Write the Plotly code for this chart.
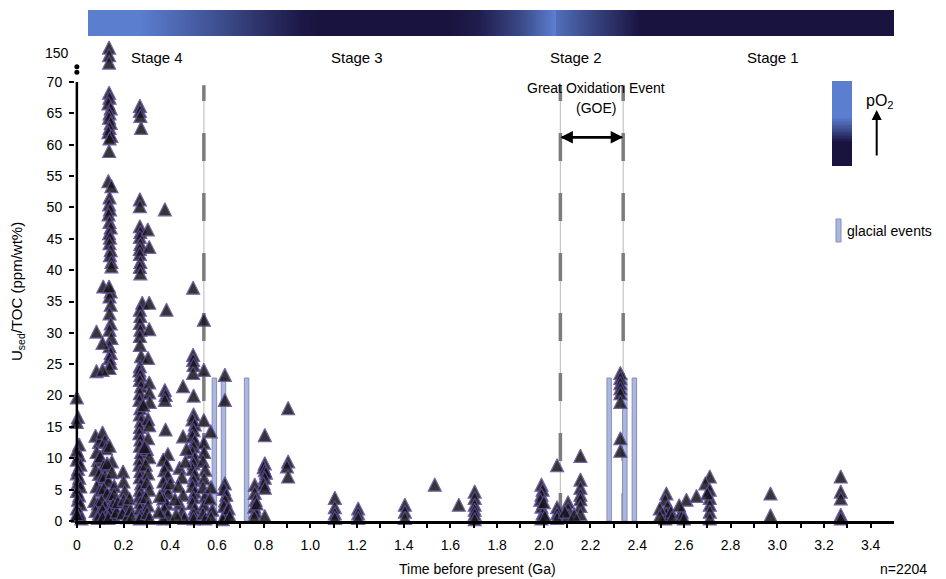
import numpy as np
import plotly.graph_objects as go

# ---------------- data ----------------
# Stage 4 (0 - 0.54 Ga)
s4_x = [0.0, 0.005, 0.0, 0.01, 0.0, 0.01, 0.0, 0.015, 0.005, 0.0, 0.01, 0.005, 0.015, 0.0, 0.01, 0.005, 0.015, 0.0, 0.01, 0.005, 0.02, 0.0,
        0.08, 0.095, 0.11, 0.12, 0.125, 0.14, 0.15, 0.085, 0.09, 0.1, 0.115, 0.13, 0.08, 0.095, 0.105, 0.12, 0.135, 0.15, 0.16,
        0.085, 0.1, 0.115, 0.13, 0.145, 0.16, 0.075, 0.09, 0.105, 0.12, 0.14, 0.155, 0.08, 0.095, 0.11, 0.125, 0.14, 0.16, 0.09,
        0.11, 0.135, 0.17, 0.175,
        0.198, 0.2, 0.205, 0.2, 0.21, 0.195, 0.215, 0.23, 0.235, 0.225,
        0.138, 0.14, 0.135, 0.145, 0.14, 0.138, 0.145, 0.14, 0.135, 0.148, 0.14, 0.138,
        0.135, 0.148, 0.14, 0.138, 0.142, 0.136, 0.14, 0.145, 0.138, 0.142, 0.14, 0.145, 0.142, 0.148, 0.148,
        0.145, 0.14, 0.145, 0.14, 0.145, 0.14, 0.148, 0.14, 0.145, 0.14, 0.145, 0.14,
        0.084, 0.11, 0.084, 0.11, 0.113, 0.138,
        0.27, 0.27, 0.272, 0.275, 0.27, 0.27, 0.27, 0.272, 0.27, 0.272, 0.27, 0.27, 0.272, 0.27, 0.272, 0.304, 0.31,
        0.377, 0.498,
        0.28, 0.27, 0.272, 0.27, 0.272, 0.27, 0.27, 0.275, 0.31, 0.31, 0.305, 0.384,
        0.27, 0.268, 0.272, 0.27, 0.275, 0.27, 0.268, 0.272, 0.27, 0.275, 0.27, 0.268, 0.272, 0.27, 0.275, 0.27, 0.268,
        0.272, 0.27, 0.275, 0.27, 0.268, 0.272, 0.27, 0.275, 0.27,
        0.31, 0.31, 0.312, 0.305, 0.31, 0.305, 0.3, 0.31, 0.295, 0.305, 0.3, 0.31, 0.295, 0.305, 0.3, 0.31, 0.29, 0.285,
        0.377, 0.38, 0.377, 0.38, 0.39, 0.37, 0.385, 0.375, 0.39, 0.37, 0.38, 0.39, 0.37, 0.385, 0.375, 0.39, 0.37, 0.4,
        0.355, 0.35,
        0.455, 0.455, 0.498, 0.498, 0.5, 0.498, 0.5,
        0.5, 0.495, 0.505, 0.5, 0.495, 0.505, 0.5, 0.495, 0.505, 0.5, 0.495, 0.505, 0.5, 0.495, 0.505, 0.5, 0.495, 0.505,
        0.5, 0.5,
        0.44, 0.45, 0.435, 0.455, 0.44, 0.45, 0.46, 0.465, 0.47, 0.42, 0.425]
s4_y = [19.7, 16.6, 15.8, 12.2, 11.3, 10.5, 9.8, 9.0, 8.3, 7.6, 6.9, 6.2, 5.5, 4.8, 4.1, 3.4, 2.7, 2.0, 1.4, 0.8, 0.4, 1.1,
        13.6, 12.6, 14.1, 12.8, 11.6, 12.0, 9.5, 11.0, 9.7, 10.3, 8.8, 9.2, 8.2, 7.5, 6.8, 7.2, 6.4, 7.8, 5.6,
        5.5, 4.9, 5.2, 4.4, 3.8, 4.3, 3.2, 2.8, 3.3, 2.4, 2.1, 2.6, 1.6, 1.2, 1.8, 0.9, 1.3, 0.7, 0.5,
        0.6, 0.5, 1.5, 3.0,
        7.9, 6.3, 4.8, 3.4, 2.2, 1.2, 0.6, 1.8, 0.7, 3.6,
        68.3, 67.5, 66.6, 65.8, 65.0, 64.3, 63.5, 62.7, 62.0, 61.4, 61.0, 59.0,
        54.2, 53.4, 51.6, 50.5, 49.7, 48.9, 47.7, 46.8, 45.9, 45.2, 44.3, 43.2, 42.4, 41.3, 40.6,
        36.6, 35.8, 34.5, 33.1, 31.5, 30.5, 29.2, 27.9, 26.8, 26.0, 25.2, 24.4,
        30.2, 28.4, 23.9, 24.1, 37.4, 37.4,
        66.2, 65.4, 64.6, 62.7, 51.3, 50.2, 47.0, 46.1, 45.3, 44.2, 43.4, 42.6, 41.3, 40.5, 39.5, 46.5, 43.7,
        49.7, 37.2,
        34.8, 33.7, 32.7, 31.6, 30.5, 29.5, 28.1, 26.3, 34.8, 30.6, 26.0, 33.7,
        24.7, 24.0, 23.3, 22.5, 21.5, 20.4, 19.3, 18.0, 17.0, 16.0, 15.0, 14.0, 13.0, 12.0, 11.0, 10.0, 9.0,
        8.0, 7.0, 6.0, 5.0, 4.0, 3.0, 2.0, 1.0, 0.4,
        22.1, 20.5, 19.0, 16.3, 15.3, 13.2, 11.5, 10.2, 9.0, 7.6, 6.2, 5.0, 3.8, 2.5, 1.3, 0.5, 11.8, 18.5,
        20.9, 20.1, 19.3, 14.6, 10.7, 9.8, 9.0, 8.1, 7.2, 6.3, 5.4, 4.5, 3.6, 2.8, 1.9, 1.0, 0.4, 6.0,
        4.0, 1.5,
        21.5, 13.5, 26.5, 25.7, 24.9, 23.6, 20.0,
        17.0, 16.2, 15.4, 14.5, 13.6, 12.8, 11.9, 11.0, 10.1, 9.2, 8.3, 7.4, 6.5, 5.6, 4.7, 3.8, 2.9, 2.0,
        1.1, 0.4,
        8.5, 7.0, 5.6, 4.2, 2.8, 1.4, 0.5, 9.5, 11.5, 3.5, 1.0]

# Stage 3 (0.54 - 2.07 Ga)
s3_x = [0.544, 0.544, 0.573, 0.544, 0.544,
        0.545, 0.54, 0.55, 0.545, 0.54, 0.55, 0.545, 0.54, 0.55,
        0.575, 0.57, 0.58, 0.575,
        0.634, 0.634, 0.634, 0.63, 0.64, 0.635, 0.63, 0.64, 0.635, 0.625, 0.65, 0.655,
        0.762, 0.762, 0.765, 0.76, 0.765, 0.76, 0.805, 0.805, 0.8, 0.805, 0.81, 0.805, 0.8, 0.805, 0.805,
        0.905, 0.905, 0.9, 0.905, 0.77,
        1.105, 1.105, 1.105, 1.105, 1.205, 1.205, 1.205, 1.405, 1.405, 1.405, 1.533, 1.636,
        1.704, 1.704, 1.704, 1.704, 1.704, 1.704,
        1.99, 1.995, 1.99, 1.985, 1.99, 1.995, 1.99, 2.0, 2.005, 2.057, 2.057, 2.057, 2.057]
s3_y = [32.1, 24.1, 14.3, 16.1, 12.5,
        11.0, 9.6, 8.2, 6.8, 5.4, 4.0, 2.6, 1.2, 0.4,
        5.4, 3.6, 1.8, 0.6,
        23.3, 19.3, 6.0, 5.1, 4.2, 3.3, 2.4, 1.5, 0.7, 0.3, 2.0, 0.8,
        5.8, 4.5, 3.4, 2.3, 1.5, 0.7, 13.7, 9.2, 8.6, 8.1, 7.7, 6.9, 6.0, 5.3, 0.8,
        18.0, 9.5, 8.7, 7.1, 2.8,
        3.7, 2.2, 1.2, 0.5, 2.0, 1.2, 0.5, 2.6, 1.5, 0.5, 5.8, 2.6,
        4.7, 3.7, 2.6, 1.8, 1.1, 0.3,
        5.8, 5.0, 4.2, 3.4, 2.3, 1.2, 0.4, 3.0, 0.8, 8.9, 2.2, 1.2, 0.5]

# Stage 2 (2.07 - 2.34 Ga)
s2_x = [2.104, 2.104, 2.104, 2.09, 2.157, 2.157, 2.157, 2.157, 2.157, 2.157, 2.157, 2.13,
        2.328, 2.328, 2.328, 2.328, 2.328, 2.328, 2.328, 2.328]
s2_y = [3.0, 2.0, 0.9, 1.5, 10.4, 6.6, 5.3, 4.2, 3.5, 2.4, 1.1, 1.0,
        23.6, 22.8, 22.0, 21.2, 20.4, 19.0, 13.2, 11.2]

# Stage 1 (> 2.34 Ga)
s1_x = [2.525, 2.52, 2.53, 2.525, 2.52, 2.497, 2.497, 2.545, 2.55, 2.59, 2.59, 2.611, 2.654, 2.58, 2.6,
        2.711, 2.692, 2.711, 2.711, 2.711, 2.711, 2.711, 2.7,
        2.971, 2.971, 3.272, 3.272, 3.272, 3.272, 3.272]
s1_y = [4.4, 3.4, 2.3, 1.2, 0.4, 2.0, 0.8, 1.5, 0.6, 1.5, 0.7, 3.4, 4.0, 2.5, 0.4,
        7.1, 6.0, 5.0, 3.7, 2.6, 1.5, 0.4, 4.4,
        4.4, 0.9, 7.1, 4.7, 3.6, 1.0, 0.4]

# values of ~150 plotted above the axis break
brk_x = [0.138, 0.138, 0.138]
brk_y = [75.5, 74.3, 73.1]

glacial_x = [0.589, 0.628, 0.727, 2.280, 2.347, 2.388]
glacial_h = [22.8, 22.8, 22.8, 22.8, 22.8, 22.8]

boundary_x = [0.544, 2.071, 2.340]
stage_names = ["Stage 4", "Stage 3", "Stage 2", "Stage 1"]
x_tickvals = [round(0.1 * i, 1) for i in range(35)]
x_ticktext = ["0" if v == 0 else (f"{v:.1f}" if i % 2 == 0 else "") for i, v in enumerate(x_tickvals)]
y_tickvals = list(range(0, 75, 5))

# ---------------- pixel helpers (layout only) ----------------
# the page body adds an 8px offset, so the figure is 8px smaller than the window
OFF = 8
W, H = 946 - OFF, 579 - OFF
PL, PR, PT, PB = 75, 894, 8, 521          # plot area in window pixels
L, R, T, B = PL - OFF, W + OFF - PR, PT - OFF, H + OFF - PB
XR = [-0.008, 3.5]
pxg = (PR - PL) / (XR[1] - XR[0])
x0px = PL - XR[0] * pxg
YR = [0, (PB - PT) / 6.271]


def X(px):
    return (px - x0px) / pxg


def Y(py):
    return (PB - py) / 6.271


def PX(px):
    return (px - PL) / (PR - PL)


def PY(py):
    return (PB - py) / (PB - PT)


FONT = "Liberation Sans, Arial, Helvetica, sans-serif"
DARK = "#19133f"
LIGHT = "#5b7ecf"
cscale = [[0, DARK], [1, LIGHT]]

fig = go.Figure()

# top pO2 colour bar
bar_px = np.linspace(88, 895, 401)
stops_px = [88, 140, 220, 300, 320, 450, 480, 520, 555, 556, 600, 640, 895]
stops_v = [1.0, 1.0, 0.55, 0.05, 0.0, 0.0, 0.1, 0.5, 1.0, 0.85, 0.4, 0.0, 0.0]
cent = (bar_px[:-1] + bar_px[1:]) / 2
fig.add_trace(go.Heatmap(x=[X(p) for p in bar_px], y=[Y(36), Y(10)],
                         z=[list(np.interp(cent, stops_px, stops_v))],
                         colorscale=cscale, zmin=0, zmax=1, showscale=False, hoverinfo="skip"))

# legend colour box
box_py = np.linspace(166, 81, 61)
bc = (box_py[:-1] + box_py[1:]) / 2
bz = np.interp(bc, [81, 117, 132, 142, 166], [1, 1, 0.45, 0, 0])
fig.add_trace(go.Heatmap(x=[X(832), X(852)], y=[Y(p) for p in box_py],
                         z=[[v] for v in bz], colorscale=cscale, zmin=0, zmax=1,
                         showscale=False, hoverinfo="skip"))

# glacial events
fig.add_trace(go.Bar(x=glacial_x, y=glacial_h, width=0.019,
                     marker=dict(color="#a9b6e6", line=dict(color="#8a90a8", width=1)),
                     hoverinfo="skip"))

mk = dict(symbol="arrow-down", angle=180, size=13, color="#141414", opacity=0.85, standoff=6.5,
          line=dict(color="#5b4a93", width=1.2))
for xs, ys in [(s4_x, s4_y), (s3_x, s3_y), (s2_x, s2_y), (s1_x, s1_y), (brk_x, brk_y)]:
    fig.add_trace(go.Scatter(x=xs, y=ys, mode="markers", marker=mk, cliponaxis=False,
                             hoverinfo="skip"))

# axis-break dots
fig.add_trace(go.Scatter(x=[0, 0], y=[Y(66.7), Y(72.3)], mode="markers",
                         marker=dict(symbol="circle", size=5, color="black"), cliponaxis=False,
                         hoverinfo="skip"))

shapes = []
shapes.append(dict(type="line", xref="x", yref="y", x0=0, x1=0, y0=0, y1=70,
                   line=dict(color="black", width=2.5)))
for bx in boundary_x:
    shapes.append(dict(type="line", xref="x", yref="y", x0=bx, x1=bx, y0=0, y1=69.5, layer="below",
                       line=dict(color="#c4c4c4", width=1.2)))
    shapes.append(dict(type="line", xref="x", yref="y", x0=bx, x1=bx, y0=0, y1=69.5, layer="below",
                       line=dict(color="#7c7c7c", width=3.5, dash="28px,32px")))
shapes.append(dict(type="rect", xref="x", yref="y", x0=X(836), x1=X(841), y0=Y(242), y1=Y(219),
                   fillcolor="#a9b6e6", line=dict(color="#8a90a8", width=1)))

ann = []
for name, px in zip(stage_names, [157, 357, 576, 773]):
    ann.append(dict(x=X(px), y=Y(57), text=name, showarrow=False, font=dict(size=15)))
ann.append(dict(x=X(596), y=Y(88), text="Great Oxidation Event", showarrow=False, font=dict(size=14)))
ann.append(dict(x=X(596), y=Y(108), text="(GOE)", showarrow=False, font=dict(size=14)))
ya = Y(137.3)
ann.append(dict(x=boundary_x[2], y=ya, ax=boundary_x[1], ay=ya, axref="x", ayref="y", text="",
                showarrow=True, arrowhead=2, arrowsize=1, arrowwidth=2.5, arrowcolor="black"))
ann.append(dict(x=boundary_x[1], y=ya, ax=boundary_x[2], ay=ya, axref="x", ayref="y", text="",
                showarrow=True, arrowhead=2, arrowsize=1, arrowwidth=2.5, arrowcolor="black"))
ann.append(dict(x=X(876.7), y=Y(110), ax=X(876.7), ay=Y(157), axref="x", ayref="y", text="",
                showarrow=True, arrowhead=2, arrowsize=1, arrowwidth=2, arrowcolor="black"))
ann.append(dict(x=X(864), y=Y(101), text="pO<sub>2</sub>", showarrow=False, xanchor="left",
                font=dict(size=16)))
ann.append(dict(x=X(845), y=Y(231), text="glacial events", showarrow=False, xanchor="left",
                font=dict(size=14)))
for a in ann:
    a.setdefault("xref", "x")
    a.setdefault("yref", "y")
# texts outside the axis ranges use paper coordinates
ann.append(dict(xref="paper", yref="paper", x=PX(71), y=PY(53), text="150", showarrow=False,
                xanchor="right", yanchor="middle", font=dict(size=14)))
ann.append(dict(xref="paper", yref="paper", x=PX(17), y=PY(292), text="U<sub>sed</sub>/TOC (ppm/wt%)",
                textangle=-90, showarrow=False, xanchor="center", yanchor="middle", font=dict(size=15)))
ann.append(dict(xref="paper", yref="paper", x=PX(477), y=PY(569), text="Time before present (Ga)",
                showarrow=False, xanchor="center", yanchor="middle", font=dict(size=14)))
ann.append(dict(xref="paper", yref="paper", x=PX(903), y=PY(569), text="n=2204", showarrow=False,
                xanchor="center", yanchor="middle", font=dict(size=14)))

fig.update_layout(
    width=W, height=H, margin=dict(l=L, r=R, t=T, b=B, pad=0),
    paper_bgcolor="white", plot_bgcolor="white", showlegend=False,
    font=dict(family=FONT, color="black", size=14),
    barmode="overlay", shapes=shapes, annotations=ann,
    xaxis=dict(range=XR, showgrid=False, zeroline=False, showline=True, linecolor="black", linewidth=3,
               ticks="outside", ticklen=4, tickwidth=2, tickcolor="black",
               tickvals=x_tickvals, ticktext=x_ticktext, ticklabelstandoff=5,
               tickfont=dict(size=14)),
    yaxis=dict(range=YR, showgrid=False, zeroline=False, showline=False,
               ticks="outside", ticklen=5, tickwidth=2, tickcolor="black",
               tickvals=y_tickvals, ticklabelstandoff=4, tickfont=dict(size=14)),
)

fig.write_html("out.html")
